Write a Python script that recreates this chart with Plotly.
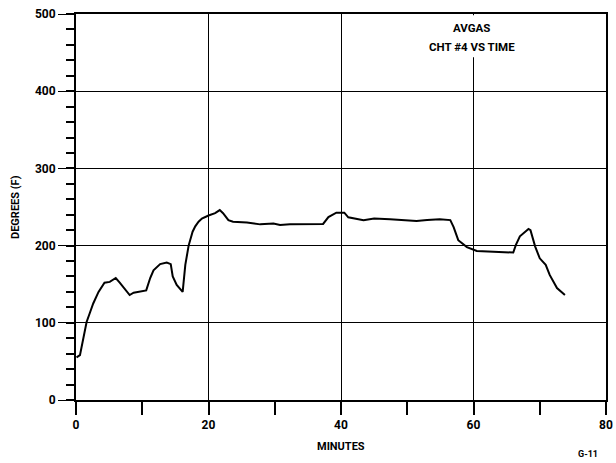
import plotly.graph_objects as go

minutes = [0.1, 0.2, 0.6, 1.1, 1.6, 2.1, 2.6, 3.4, 4.3, 5.1, 6.0, 6.6, 7.4, 8.1, 8.7,
           9.9, 10.6, 11.2, 11.7, 12.7, 13.7, 14.3, 14.6, 15.2, 16.1, 16.5, 17.0,
           17.6, 18.0, 18.5, 19.0, 20.0, 21.0, 21.7, 22.2, 23.0, 23.7, 25.8, 27.8,
           29.8, 30.8, 32.3, 35.0, 37.3, 38.1, 39.3, 40.5, 41.1, 43.4, 45.0, 47.4,
           49.0, 51.4, 53.0, 54.9, 56.5, 57.0, 57.7, 59.0, 60.5, 63.0, 66.0, 66.4,
           67.0, 68.3, 68.6, 69.3, 70.0, 70.9, 71.5, 72.6, 73.8]
degrees = [55, 56, 58, 78, 101, 113, 125, 140, 152, 153, 158, 152, 143, 136, 139,
           141, 142, 158, 168, 176, 178, 176, 160, 149, 140, 175, 200,
           218, 225, 231, 235, 239, 242, 246, 242, 233, 231, 230, 227.5,
           228.6, 226.7, 227.7, 228, 228, 237, 242.6, 242.6, 236.6, 233, 235, 234,
           233, 232, 233, 234, 233, 224, 207, 198, 193, 192, 191, 201,
           212, 221.5, 220, 199, 183.5, 175, 162, 145, 136]

y_ticks = [0, 100, 200, 300, 400, 500]
x_ticks = [0, 20, 40, 60, 80]

FONT = "Roboto, Liberation Sans, sans-serif"

fig = go.Figure()
fig.add_trace(go.Scatter(x=minutes, y=degrees, mode="lines",
                         line=dict(color="black", width=2), showlegend=False,
                         hoverinfo="skip"))

fig.update_layout(
    width=616, height=463,
    margin=dict(l=76, r=10, t=14, b=63),
    paper_bgcolor="white", plot_bgcolor="white",
    font=dict(family=FONT, size=12, color="black", weight="bold"),
    xaxis=dict(range=[0, 80], tickvals=x_ticks, ticktext=[str(v) for v in x_ticks],
               showgrid=True, gridcolor="black", gridwidth=1.3,
               showline=True, linecolor="black", linewidth=2, mirror=True,
               ticks="outside", ticklen=13, tickwidth=1.5, tickcolor="black",
               minor=dict(dtick=10, ticks="outside", ticklen=13, tickwidth=1.5,
                          tickcolor="black", showgrid=False),
               zeroline=False, automargin=False, ticklabeloverflow="allow",
               tickfont=dict(family=FONT, size=12, color="black", weight="bold")),
    yaxis=dict(range=[0, 500], tickvals=y_ticks, ticktext=[str(v) for v in y_ticks],
               showgrid=True, gridcolor="black", gridwidth=1.3,
               showline=True, linecolor="black", linewidth=2, mirror=True,
               ticks="outside", ticklen=16, tickwidth=1.3, tickcolor="black",
               minor=dict(dtick=20, ticks="outside", ticklen=8, tickwidth=1.5,
                          tickcolor="black", showgrid=False),
               zeroline=False, automargin=False, ticklabeloverflow="allow",
               tickfont=dict(family=FONT, size=12, color="black", weight="bold")),
)

# white gap in the 60-minute grid line behind the caption
fig.add_shape(type="rect", xref="x", yref="y", x0=58, x1=62, y0=444, y1=498.5,
              fillcolor="white", line=dict(width=0), layer="above")

fig.add_annotation(x=0.5, y=0, xref="paper", yref="paper", text="MINUTES",
                   showarrow=False, yanchor="middle", yshift=-46,
                   font=dict(family=FONT, size=11, color="black", weight="bold"))
fig.add_annotation(x=0, y=0.5, xref="paper", yref="paper", text="DEGREES (F)",
                   showarrow=False, textangle=-90, xanchor="center", xshift=-61,
                   font=dict(family=FONT, size=11, color="black", weight="bold"))
fig.add_annotation(x=60, y=482, xref="x", yref="y", text="AVGAS", showarrow=False,
                   xshift=-2,
                   font=dict(family=FONT, size=11.5, color="black", weight="bold"))
fig.add_annotation(x=60, y=457, xref="x", yref="y", text="CHT #4 VS TIME",
                   showarrow=False, xshift=-2,
                   font=dict(family=FONT, size=11.5, color="black", weight="bold"))
fig.add_annotation(x=1, y=0, xref="paper", yref="paper", text="G-11",
                   showarrow=False, xanchor="right", yanchor="middle",
                   xshift=-6, yshift=-54,
                   font=dict(family=FONT, size=9, color="black"))

fig.write_html("out.html", config={"displayModeBar": False},
               post_script="document.body.style.margin='0';"
                           "document.body.style.overflow='hidden';")
